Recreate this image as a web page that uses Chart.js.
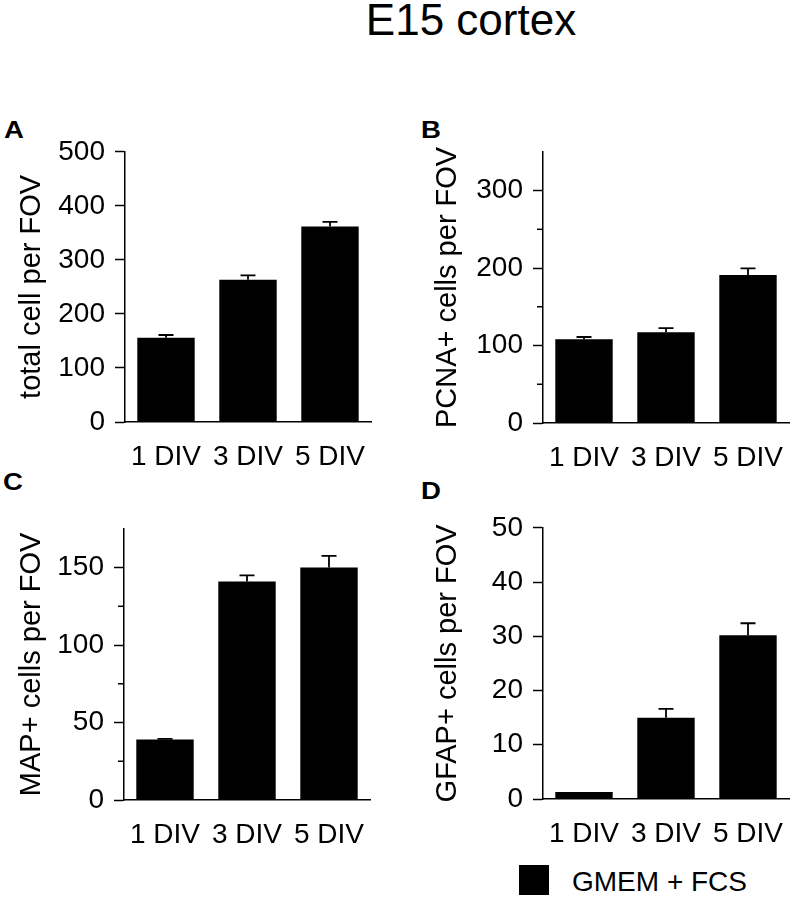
<!DOCTYPE html>
<html>
<head>
<meta charset="utf-8">
<script src="https://cdn.jsdelivr.net/npm/chart.js@4.4.1/dist/chart.umd.min.js"></script>
<style>
  body { margin: 0; width: 796px; height: 899px; background: #fff; position: relative; overflow: hidden;
         font-family: "Liberation Sans", Arial, Helvetica, sans-serif; color: #000; }
  .abs { position: absolute; }
  #title { left: 250px; width: 442px; top: -2px; text-align: center; font-size: 44px; line-height: 44px; }
  .letter { font-size: 23px; line-height: 23px; font-weight: bold; transform: scaleX(1.2); transform-origin: left top; }
  #legendBox { left: 519px; top: 865px; width: 30px; height: 30px; background: #000; }
  #legendText { left: 572px; top: 868px; font-size: 28px; line-height: 28px; white-space: nowrap; }
</style>
</head>
<body>
<div id="title" class="abs">E15 cortex</div>
<div class="abs letter" style="left:4px; top:119px;">A</div>
<div class="abs letter" style="left:421px; top:119px;">B</div>
<div class="abs letter" style="left:3px; top:471px;">C</div>
<div class="abs letter" style="left:421px; top:480px;">D</div>

<canvas id="chartA" class="abs"></canvas>
<canvas id="chartB" class="abs"></canvas>
<canvas id="chartC" class="abs"></canvas>
<canvas id="chartD" class="abs"></canvas>

<div id="legendBox" class="abs"></div>
<div id="legendText" class="abs">GMEM + FCS</div>

<script>
// ---- data ----
const categories = ["1 DIV", "3 DIV", "5 DIV"];

const totalCells    = [156, 263, 362];
const totalCellsErr = [5, 8.5, 8.5];
const totalTicks    = [0, 100, 200, 300, 400, 500];

const pcnaCells    = [108, 117, 191];
const pcnaCellsErr = [3, 5.5, 8.5];
const pcnaTicks    = [0, 100, 200, 300];
const pcnaMinor    = [50, 150, 250];

const mapCells    = [39, 141, 150];
const mapCellsErr = [0.5, 4, 7.5];
const mapTicks    = [0, 50, 100, 150];
const mapMinor    = [25, 75, 125];

const gfapCells    = [1.3, 15, 30.2];
const gfapCellsErr = [0, 1.6, 2.2];
const gfapTicks    = [0, 10, 20, 30, 40, 50];

const FONT = "'Liberation Sans', Arial, Helvetica, sans-serif";

// upward error bars with a cap
const errorBarPlugin = {
    id: "errorBars",
    afterDatasetsDraw(chart, args, opts) {
        const ctx = chart.ctx;
        const yScale = chart.scales.y;
        const meta = chart.getDatasetMeta(0);
        const values = chart.data.datasets[0].data;
        ctx.save();
        ctx.strokeStyle = "#000";
        ctx.lineWidth = 1.8;
        meta.data.forEach((bar, i) => {
            const err = opts.errors[i];
            if (!err) return;
            const yTop = yScale.getPixelForValue(values[i] + err);
            ctx.beginPath();
            ctx.moveTo(bar.x, bar.y);
            ctx.lineTo(bar.x, yTop);
            ctx.moveTo(bar.x - 7.5, yTop);
            ctx.lineTo(bar.x + 7.5, yTop);
            ctx.stroke();
        });
        ctx.restore();
    }
};

// short unlabelled ticks
const minorTickPlugin = {
    id: "minorTicks",
    afterDraw(chart, args, opts) {
        if (!opts.values || !opts.values.length) return;
        const ctx = chart.ctx;
        const yScale = chart.scales.y;
        const x = chart.chartArea.left;
        ctx.save();
        ctx.strokeStyle = "#000";
        ctx.lineWidth = 1.5;
        opts.values.forEach(v => {
            const py = yScale.getPixelForValue(v);
            ctx.beginPath();
            ctx.moveTo(x - 6, py);
            ctx.lineTo(x, py);
            ctx.stroke();
        });
        ctx.restore();
    }
};

function drawPanel(cfg, box) {
    const canvas = document.getElementById(cfg.id);
    const padTop = 24, xAxisH = 50;
    const width = box.plotRight - box.left + 8;
    const height = padTop + (box.plotBottom - box.plotTop) + xAxisH;
    canvas.width = width;
    canvas.height = height;
    canvas.style.left = box.left + "px";
    canvas.style.top = (box.plotTop - padTop) + "px";

    new Chart(canvas.getContext("2d"), {
        type: "bar",
        data: {
            labels: categories,
            datasets: [{
                data: cfg.values,
                backgroundColor: "#000",
                borderWidth: 0,
                barPercentage: 0.7,
                categoryPercentage: 1
            }]
        },
        options: {
            responsive: false,
            animation: false,
            events: [],
            layout: { padding: { top: padTop, left: 0, right: width - (box.plotRight - box.left), bottom: 0 } },
            plugins: {
                legend: { display: false },
                tooltip: { enabled: false },
                errorBars: { errors: cfg.errors },
                minorTicks: { values: cfg.minor }
            },
            scales: {
                x: {
                    grid: { display: false },
                    border: { display: true, color: "#000", width: 1.5 },
                    ticks: { color: "#000", font: { family: FONT, size: 28 }, padding: 10, maxRotation: 0 },
                    afterFit: s => { s.height = xAxisH; }
                },
                y: {
                    min: 0,
                    max: cfg.max,
                    afterBuildTicks: s => { s.ticks = cfg.ticks.map(v => ({ value: v })); },
                    afterFit: s => { s.width = box.axisX - box.left; },
                    grid: { display: true, drawOnChartArea: false, drawTicks: true, tickLength: 10,
                            tickColor: "#000", tickWidth: 1.5 },
                    border: { display: true, color: "#000", width: 1.5 },
                    ticks: { color: "#000", font: { family: FONT, size: 28 }, padding: 10 },
                    title: {
                        display: true,
                        text: cfg.title,
                        color: "#000",
                        font: { family: FONT, size: 29, lineHeight: 1.2 },
                        padding: { top: 15, bottom: 0 }
                    }
                }
            }
        },
        plugins: [errorBarPlugin, minorTickPlugin]
    });
}

drawPanel({ id: "chartA", title: "total cell per FOV", values: totalCells, errors: totalCellsErr,
            max: 500, ticks: totalTicks, minor: [] },
          { left: 0, axisX: 125, plotRight: 371, plotTop: 149, plotBottom: 422 });

drawPanel({ id: "chartB", title: "PCNA+ cells per FOV", values: pcnaCells, errors: pcnaCellsErr,
            max: 350, ticks: pcnaTicks, minor: pcnaMinor },
          { left: 416, axisX: 543, plotRight: 789, plotTop: 149, plotBottom: 423 });

drawPanel({ id: "chartC", title: "MAP+ cells per FOV", values: mapCells, errors: mapCellsErr,
            max: 175, ticks: mapTicks, minor: mapMinor },
          { left: 0, axisX: 124, plotRight: 370, plotTop: 526, plotBottom: 800 });

drawPanel({ id: "chartD", title: "GFAP+ cells per FOV", values: gfapCells, errors: gfapCellsErr,
            max: 50, ticks: gfapTicks, minor: [] },
          { left: 416, axisX: 543, plotRight: 789, plotTop: 525, plotBottom: 799 });
</script>
</body>
</html>
